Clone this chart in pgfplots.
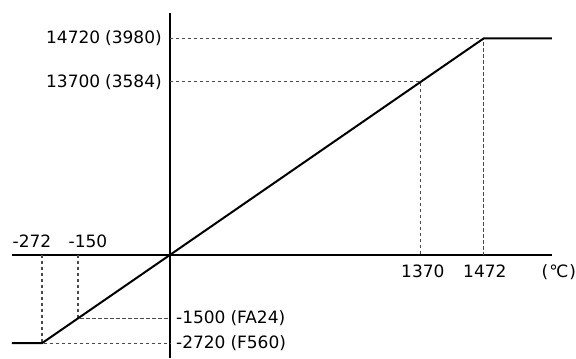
\documentclass[border=0pt]{standalone}
\usepackage{pgfplots}
\pgfplotsset{compat=1.18}
\usepackage{fontspec}
\setmainfont{DejaVu Sans}
\definecolor{dashgray}{HTML}{4A4A4A}

% schematic chart: coordinates are drawing units (1 unit = 1bp), origin at the axes' crossing
\pgfplotstableread{
x y
-158 -88.3
-128 -88.3
0 0
314 216.7
382 216.7
}\curve

\begin{document}
\begin{tikzpicture}[lbl/.style={inner sep=0pt, font=\fontsize{17bp}{20bp}\selectfont}]
\begin{axis}[
  scale only axis, width=576bp, height=358bp,
  xmin=-170, xmax=406, ymin=-103, ymax=255,
  axis lines=none, clip=false,
]
\path (rel axis cs:0,0) rectangle (rel axis cs:1,1);
% axes
\addplot[black, line width=1.2bp] coordinates {(-158,0) (382,0)};
\addplot[black, line width=1.2bp] coordinates {(0,-103) (0,242)};
% guide lines
\addplot[dashgray, line width=1.1bp, dash pattern=on 3.5bp off 2.5bp] coordinates {(0,216.7) (314,216.7) (314,0)};
\addplot[dashgray, line width=1.1bp, dash pattern=on 3.5bp off 2.5bp] coordinates {(0,173.3) (250.7,173.3) (250.7,0)};
\addplot[dashgray, line width=1.1bp, dash pattern=on 3.5bp off 2.5bp] coordinates {(-92,0) (-92,-63.5) (0,-63.5)};
\addplot[dashgray, line width=1.1bp, dash pattern=on 3.5bp off 2.5bp] coordinates {(-128,0) (-128,-88.3) (0,-88.3)};
% characteristic
\addplot[black, line width=2bp, line join=round] table[x=x, y=y] {\curve};
% labels
\node[lbl, anchor=base east] at (axis cs:-8,211) {14720\hspace{5bp}(3980)};
\node[lbl, anchor=base east] at (axis cs:-8,167.3) {13700\hspace{5bp}(3584)};
\node[lbl, anchor=base] at (axis cs:-138,7) {-272};
\node[lbl, anchor=base] at (axis cs:-82,7) {-150};
\node[lbl, anchor=base] at (axis cs:253,-23) {1370};
\node[lbl, anchor=base] at (axis cs:315,-23) {1472};
\node[lbl, anchor=base] at (axis cs:389,-23) {(\hspace{1bp}℃\hspace{1bp})};
\node[lbl, anchor=base west] at (axis cs:6,-69) {-1500\hspace{5bp}(FA24)};
\node[lbl, anchor=base west] at (axis cs:6,-94) {-2720\hspace{5bp}(F560)};
\end{axis}
\end{tikzpicture}
\end{document}
